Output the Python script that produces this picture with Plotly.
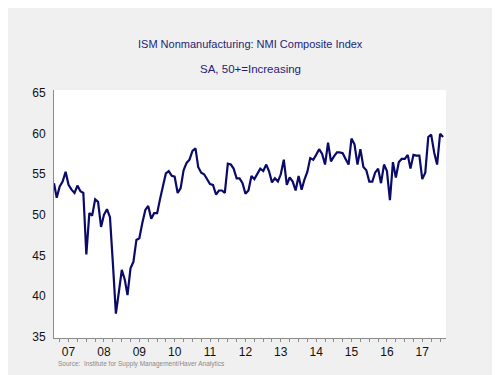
import plotly.graph_objects as go
import pandas as pd

start_month = "2007-02-01"
values = [
    53.9, 52.1, 53.5, 54.1, 55.3, 53.7, 53.1, 52.7, 53.6, 52.9, 52.7,          # Feb-Dec 2007
    45.1, 50.2, 49.9, 51.9, 51.6, 48.5, 50.0, 50.7, 49.7, 44.0, 37.8, 40.4,    # 2008
    43.2, 42.0, 40.1, 43.4, 44.2, 46.9, 47.1, 49.0, 50.6, 51.1, 49.5, 50.2,    # 2009
    50.2, 52.0, 53.5, 55.1, 55.4, 54.8, 54.7, 52.7, 53.3, 55.5, 56.4, 56.8,    # 2010
    57.9, 58.2, 55.9, 55.2, 55.0, 54.4, 53.8, 53.7, 52.5, 53.0, 53.0, 52.7,    # 2011
    56.3, 56.2, 55.7, 54.5, 54.5, 53.9, 52.6, 53.0, 54.8, 54.4, 55.0, 55.7,    # 2012
    55.4, 56.2, 55.4, 54.0, 54.5, 54.1, 55.0, 56.8, 53.7, 54.6, 54.1, 53.0,    # 2013
    54.8, 53.1, 54.3, 55.3, 57.0, 56.8, 57.4, 58.1, 57.5, 56.2, 58.9, 56.6,    # 2014
    57.2, 57.7, 57.7, 57.6, 56.9, 56.2, 59.4, 58.7, 56.2, 58.1, 55.9, 55.5,    # 2015
    54.1, 54.1, 55.2, 55.7, 53.9, 56.2, 55.4, 51.8, 56.5, 54.6, 56.5, 56.9,    # 2016
    56.9, 57.4, 55.7, 57.4, 57.3, 57.3, 54.4, 55.2, 59.6, 59.9, 57.7, 56.2,    # 2017
    60.0, 59.6,                                                                # Jan-Feb 2018
]
dates = pd.date_range(start_month, periods=len(values), freq="MS")

year_labels = ["07", "08", "09", "10", "11", "12", "13", "14", "15", "16", "17"]
label_dates = [f"20{y}-07-01" for y in year_labels]
year_starts = [f"20{y}-01-01" for y in ["08", "09", "10", "11", "12", "13", "14", "15", "16", "17", "18"]]
y_ticks = [35, 40, 45, 50, 55, 60, 65]

title = "ISM Nonmanufacturing: NMI Composite Index"
subtitle = "SA, 50+=Increasing"
source = "Source:  Institute for Supply Management/Haver Analytics"

FONT = "Liberation Sans, Arial, sans-serif"
x_range = ["2007-02-01", "2018-03-03"]

fig = go.Figure()
fig.add_trace(go.Scatter(
    x=dates, y=values, mode="lines",
    line=dict(color="#0a0a6a", width=2.2),
    hoverinfo="x+y", showlegend=False,
))

fig.update_layout(
    width=492, height=367,
    margin=dict(l=46, r=54, t=82, b=37, autoexpand=False),
    paper_bgcolor="#f0f0f0",
    plot_bgcolor="#ffffff",
    font=dict(family=FONT, color="#111111"),
    showlegend=False,
    xaxis=dict(
        type="date", range=x_range, automargin=False,
        showline=True, linecolor="#8c8c8c", linewidth=1,
        showgrid=False, zeroline=False,
        tickmode="array", tickvals=label_dates, ticktext=year_labels,
        ticks="", ticklabelstandoff=3,
        tickfont=dict(size=12, color="#111111", family=FONT),
        minor=dict(ticks="outside", dtick="M3", tick0="2007-01-01",
                   ticklen=3, tickcolor="#8c8c8c", tickwidth=1, showgrid=False),
    ),
    xaxis2=dict(
        type="date", range=x_range, overlaying="x", anchor="y", automargin=False,
        showline=False, showgrid=False, zeroline=False,
        tickmode="array", tickvals=year_starts, showticklabels=False,
        ticks="outside", ticklen=5, tickcolor="#8c8c8c", tickwidth=1,
    ),
    yaxis=dict(
        range=[34.8, 65.4], automargin=False,
        showline=True, linecolor="#8c8c8c", linewidth=1,
        showgrid=False, zeroline=False,
        tickmode="array", tickvals=y_ticks,
        ticks="", ticklabelstandoff=5,
        tickfont=dict(size=12, color="#111111", family=FONT),
    ),
    annotations=[
        dict(text=title, xref="paper", yref="paper", x=0.5, y=1.185,
             xanchor="center", yanchor="middle", showarrow=False,
             font=dict(size=11, color="#1e1e78", family=FONT)),
        dict(text=subtitle, xref="paper", yref="paper", x=0.5, y=1.085,
             xanchor="center", yanchor="middle", showarrow=False,
             font=dict(size=11.5, color="#1e1e78", family=FONT)),
        dict(text=source, xref="paper", yref="paper", x=0.005, y=-0.104,
             xanchor="left", yanchor="middle", showarrow=False,
             font=dict(size=6.5, color="#8a8a8a", family=FONT)),
    ],
)

fig.write_html("out.html")
